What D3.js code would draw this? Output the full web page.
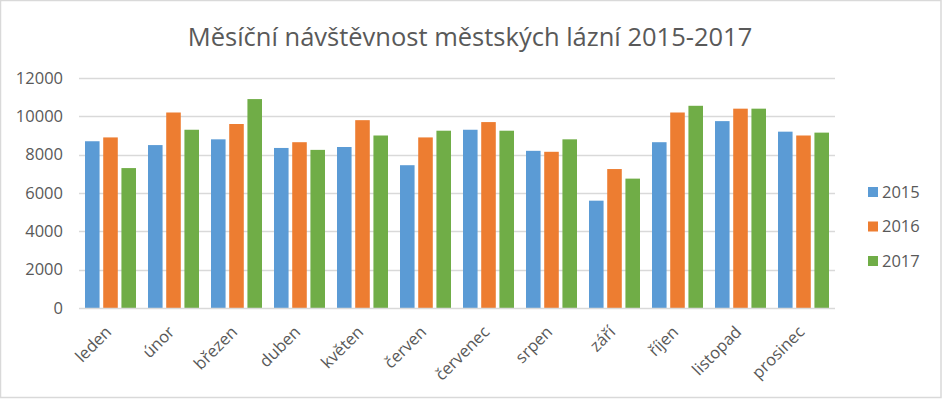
<!DOCTYPE html>
<html>
<head>
<meta charset="utf-8">
<script src="https://cdn.jsdelivr.net/npm/d3@7"></script>
<style>
  html, body { margin: 0; padding: 0; background: #fff; }
  svg { display: block; }
  text { font-family: "Open Sans", "Liberation Sans", sans-serif; fill: #595959; }
</style>
</head>
<body>
<svg id="chart" width="942" height="400"></svg>
<script>
const title = "Měsíční návštěvnost městských lázní 2015-2017";
const months = ["leden", "únor", "březen", "duben", "květen", "červen", "červenec", "srpen", "září", "říjen", "listopad", "prosinec"];
const seriesNames = ["2015", "2016", "2017"];
const seriesColors = ["#5b9bd5", "#ed7d31", "#70ad47"];
const values2015 = [8700, 8500, 8800, 8350, 8400, 7450, 9300, 8200, 5600, 8650, 9750, 9200];
const values2016 = [8900, 10200, 9600, 8650, 9800, 8900, 9700, 8150, 7250, 10200, 10400, 9000];
const values2017 = [7300, 9300, 10900, 8250, 9000, 9250, 9250, 8800, 6750, 10550, 10400, 9150];
const yTicks = [0, 2000, 4000, 6000, 8000, 10000, 12000];

const seriesValues = [values2015, values2016, values2017];
const svg = d3.select("#chart");
const W = 942, H = 400;
const plot = { left: 79, right: 835, top: 78, bottom: 308 };

svg.append("rect").attr("x", 0.5).attr("y", 0.5).attr("width", W - 1.5).attr("height", H - 3)
  .attr("fill", "#fff").attr("stroke", "#d9d9d9").attr("stroke-width", 1.5);

svg.append("text").attr("x", 470).attr("y", 46).attr("text-anchor", "middle")
  .attr("font-size", 25.5).text(title);

const y = d3.scaleLinear().domain([0, 12000]).range([plot.bottom, plot.top]);
const x0 = d3.scaleBand().domain(months).range([plot.left, plot.right]).padding(0);
const x1 = d3.scaleBand().domain(seriesNames).range([6, x0.bandwidth() - 6]).paddingInner(0.2).paddingOuter(0);

// gridlines
svg.append("g").selectAll("line").data(yTicks.filter(d => d > 0)).join("line")
  .attr("x1", plot.left).attr("x2", plot.right)
  .attr("y1", d => Math.round(y(d)) + 0.5).attr("y2", d => Math.round(y(d)) + 0.5)
  .attr("stroke", "#d9d9d9").attr("stroke-width", 1.5);

// y axis labels
const yAxis = d3.axisLeft(y).tickValues(yTicks).tickSize(0).tickPadding(16).tickFormat(d3.format("d"));
const gy = svg.append("g").attr("transform", `translate(${plot.left},0)`).call(yAxis);
gy.select(".domain").remove();
gy.selectAll("text").attr("font-size", 16.5).attr("fill", "#595959")
  .style("font-family", '"Open Sans", "Liberation Sans", sans-serif');

// bars
const groups = svg.append("g").selectAll("g").data(months).join("g")
  .attr("transform", d => `translate(${x0(d)},0)`);
groups.selectAll("rect").data((m, i) => seriesNames.map((s, k) => ({ s, k, v: seriesValues[k][i] })))
  .join("rect")
  .attr("x", d => x1(d.s)).attr("width", x1.bandwidth())
  .attr("y", d => y(d.v)).attr("height", d => y(0) - y(d.v))
  .attr("fill", d => seriesColors[d.k]);

// x axis
const xAxis = d3.axisBottom(x0).tickSize(0).tickPadding(0);
const gx = svg.append("g").attr("transform", `translate(0,${plot.bottom})`).call(xAxis);
gx.select(".domain").attr("stroke", "#d9d9d9").attr("stroke-width", 1.5).attr("d", `M${plot.left},0.5H${plot.right}`);
gx.selectAll("text")
  .attr("font-size", 16.5).attr("fill", "#595959")
  .style("font-family", '"Open Sans", "Liberation Sans", sans-serif')
  .attr("text-anchor", "end").attr("dy", 0).attr("y", 0)
  .attr("transform", "translate(2,25) rotate(-45)");

// legend
const legend = svg.append("g").selectAll("g").data(seriesNames).join("g")
  .attr("transform", (d, i) => `translate(868,${192 + i * 34.5})`);
legend.append("rect").attr("x", 0).attr("y", -5).attr("width", 10).attr("height", 10)
  .attr("fill", (d, i) => seriesColors[i]);
legend.append("text").attr("x", 14).attr("y", 0).attr("dy", "0.36em")
  .attr("font-size", 16.5).text(d => d);
</script>
</body>
</html>
